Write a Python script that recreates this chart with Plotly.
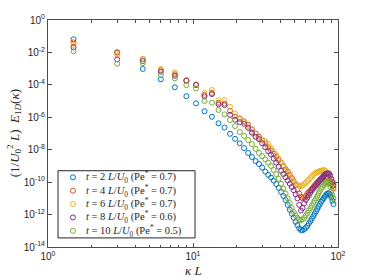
import plotly.graph_objects as go

# wavenumber kappa*L
kL = [1.5, 3.0, 4.5, 6.0, 7.5, 9.0, 10.5, 12.0, 13.5, 15.0,
      16.5, 18.0, 19.5, 21.0, 22.5, 24.0, 25.5, 27.0, 28.5, 30.0,
      31.5, 33.0, 34.5, 36.0, 37.5, 39.0, 40.5, 42.0, 43.5, 45.0,
      46.5, 48.0, 49.5, 51.0, 52.5, 54.0, 55.5, 57.0, 58.5, 60.0,
      61.5, 63.0, 64.5, 66.0, 67.5, 69.0, 70.5, 72.0, 73.5, 75.0,
      76.5, 78.0, 79.5, 81.0, 82.5, 84.0, 85.5, 87.0, 88.5, 90.0,
      91.5, 93.0]

# log10 of normalised spectrum E_1D
exp_t2 = [-1.19, -2.00, -3.02, -3.66, -4.15, -4.70, -5.14, -5.63, -5.97, -6.37,
          -6.63, -7.02, -7.33, -7.60, -7.90, -8.20, -8.45, -8.70, -8.88, -9.10,
          -9.35, -9.55, -9.72, -9.90, -10.12, -10.35, -10.60, -10.85, -11.10, -11.40,
          -11.70, -11.95, -12.20, -12.45, -12.65, -12.85, -12.95, -12.97, -12.90, -12.80,
          -12.70, -12.55, -12.40, -12.25, -12.10, -11.95, -11.80, -11.65, -11.50, -11.35,
          -11.20, -11.10, -11.00, -10.90, -10.80, -10.72, -10.68, -10.70, -10.80, -10.95,
          -11.15, -11.35]
exp_t4 = [-1.38, -2.00, -2.41, -3.10, -3.35, -3.72, -3.98, -4.62, -4.50, -5.10,
          -5.15, -5.60, -5.95, -6.10, -6.25, -6.45, -6.75, -7.00, -7.20, -7.40,
          -7.60, -7.85, -8.05, -8.25, -8.45, -8.65, -8.80, -9.00, -9.20, -9.35,
          -9.55, -9.75, -9.95, -10.20, -10.45, -10.70, -10.90, -11.00, -10.95, -10.85,
          -10.70, -10.60, -10.50, -10.40, -10.30, -10.20, -10.10, -10.00, -9.92, -9.85,
          -9.80, -9.75, -9.72, -9.70, -9.67, -9.66, -9.70, -9.80, -9.95, -10.10,
          -10.25, -10.40]
exp_t6 = [-1.54, -2.16, -2.40, -3.02, -3.23, -3.74, -4.00, -4.50, -4.32, -4.94,
          -4.94, -5.35, -5.76, -6.05, -6.30, -6.55, -6.90, -7.20, -7.30, -7.40,
          -7.47, -7.65, -7.90, -8.10, -8.33, -8.55, -8.80, -9.05, -9.30, -9.50,
          -9.70, -9.85, -10.00, -10.10, -10.18, -10.22, -10.25, -10.20, -10.12, -10.05,
          -9.95, -9.85, -9.75, -9.65, -9.55, -9.48, -9.42, -9.38, -9.35, -9.32,
          -9.30, -9.28, -9.26, -9.28, -9.32, -9.45, -9.57, -9.75, -9.90, -10.00,
          -10.05, -10.10]
exp_t8 = [-1.69, -2.43, -2.53, -3.19, -3.44, -3.74, -4.01, -4.71, -4.57, -5.20,
          -5.25, -5.85, -6.15, -6.30, -6.40, -6.65, -6.95, -7.20, -7.35, -7.60,
          -7.85, -8.10, -8.30, -8.55, -8.80, -9.05, -9.30, -9.50, -9.70, -9.90,
          -10.10, -10.30, -10.50, -10.75, -11.00, -11.40, -11.75, -11.60, -11.30, -11.10,
          -10.95, -10.80, -10.65, -10.50, -10.40, -10.30, -10.20, -10.10, -10.00, -9.90,
          -9.80, -9.70, -9.62, -9.55, -9.50, -9.47, -9.45, -9.48, -9.60, -9.80,
          -10.00, -10.20]
exp_t10 = [-1.93, -2.70, -2.67, -3.40, -3.60, -4.01, -4.22, -5.00, -5.10, -5.55,
           -5.82, -6.17, -6.54, -6.90, -7.15, -7.40, -7.65, -7.95, -8.20, -8.40,
           -8.60, -8.80, -9.00, -9.25, -9.50, -9.80, -10.10, -10.40, -10.70, -11.00,
           -11.30, -11.60, -11.85, -12.05, -12.20, -12.30, -12.35, -12.30, -12.20, -12.05,
           -11.90, -11.75, -11.60, -11.45, -11.30, -11.15, -11.00, -10.85, -10.70, -10.55,
           -10.40, -10.30, -10.20, -10.10, -10.02, -9.98, -10.00, -10.10, -10.30, -10.55,
           -10.80, -11.00]

series_names = [
    "<i>t</i> = 2 <i>L</i>/<i>U</i><sub>0</sub> (Pe<sup>*</sup> = 0.7)",
    "<i>t</i> = 4 <i>L</i>/<i>U</i><sub>0</sub> (Pe<sup>*</sup> = 0.7)",
    "<i>t</i> = 6 <i>L</i>/<i>U</i><sub>0</sub> (Pe<sup>*</sup> = 0.7)",
    "<i>t</i> = 8 <i>L</i>/<i>U</i><sub>0</sub> (Pe<sup>*</sup> = 0.6)",
    "<i>t</i> = 10 <i>L</i>/<i>U</i><sub>0</sub> (Pe<sup>*</sup> = 0.5)",
]
series_exps = [exp_t2, exp_t4, exp_t6, exp_t8, exp_t10]
colors = ["#0072BD", "#D95319", "#EDB120", "#7E2F8E", "#77AC30"]

x_tickvals = [1, 10, 100]
x_ticktext = ["10<sup>0</sup>", "10<sup>1</sup>", "10<sup>2</sup>"]
y_tickvals = [1, 1e-2, 1e-4, 1e-6, 1e-8, 1e-10, 1e-12, 1e-14]
y_ticktext = ["10<sup>0</sup>", "10<sup>-2</sup>", "10<sup>-4</sup>", "10<sup>-6</sup>",
              "10<sup>-8</sup>", "10<sup>-10</sup>", "10<sup>-12</sup>", "10<sup>-14</sup>"]
x_minor = [2, 3, 4, 5, 6, 7, 8, 9, 20, 30, 40, 50, 60, 70, 80, 90]

x_title = "<i>κ L</i>"
y_title = "(1/<i>U</i><sub>0</sub><sup>2</sup> <i>L</i>)  <i>E</i><sub>1<i>D</i></sub>(<i>κ</i>)"

fig = go.Figure()
for name, ex, c in zip(series_names, series_exps, colors):
    fig.add_trace(go.Scatter(
        x=kL, y=[10 ** v for v in ex], mode="markers", name=name,
        marker=dict(symbol="circle-open", size=5, color=c, line=dict(width=1, color=c)),
        showlegend=False,
    ))

axis_col = "#4d4d4d"
text_col = "#262626"
tick_font = dict(family="Liberation Sans, Arial, sans-serif", size=10, color=text_col)
serif = "Liberation Serif, Times New Roman, serif"

# custom legend box (paper coordinates)
leg_x0, leg_x1, leg_y0, leg_y1 = 0.0345, 0.507, 0.040, 0.336
row_y = [0.307, 0.248, 0.189, 0.130, 0.071]
mark_x = 0.086
text_x = 0.125
shapes = [dict(type="rect", xref="paper", yref="paper", x0=leg_x0, x1=leg_x1, y0=leg_y0, y1=leg_y1,
               line=dict(color=text_col, width=1), fillcolor="white", layer="above")]
annotations = []
for name, c, yy in zip(series_names, colors, row_y):
    shapes.append(dict(type="circle", xref="paper", yref="paper", xsizemode="pixel", ysizemode="pixel",
                       xanchor=mark_x, yanchor=yy, x0=-2.5, x1=2.5, y0=-2.5, y1=2.5,
                       line=dict(color=c, width=1), layer="above"))
    annotations.append(dict(xref="paper", yref="paper", x=text_x, y=yy, xanchor="left", yanchor="middle",
                            text=name, showarrow=False,
                            font=dict(family=serif, size=10.5, color=text_col)))

# axis titles
annotations.append(dict(xref="paper", yref="paper", x=0.5, y=-0.105, xanchor="center", yanchor="middle",
                        text=x_title, showarrow=False, font=dict(family=serif, size=13, color=text_col)))
annotations.append(dict(xref="paper", yref="paper", x=-0.118, y=0.5, xanchor="center", yanchor="middle",
                        text=y_title, textangle=-90, showarrow=False,
                        font=dict(family=serif, size=13, color=text_col)))

fig.update_layout(
    width=374, height=280,
    margin=dict(l=48, r=36, t=20, b=33),
    paper_bgcolor="white", plot_bgcolor="white",
    showlegend=False,
    shapes=shapes, annotations=annotations,
)
fig.update_xaxes(
    type="log", range=[0, 2], automargin=False,
    tickvals=x_tickvals, ticktext=x_ticktext,
    ticks="inside", ticklen=4, tickcolor=axis_col,
    minor=dict(tickvals=x_minor, ticks="inside", ticklen=2.5, tickcolor=axis_col, showgrid=False),
    showline=True, linecolor=axis_col, linewidth=1, mirror="ticks",
    showgrid=False, zeroline=False, tickfont=tick_font,
)
fig.update_yaxes(
    type="log", range=[-14, 0], automargin=False,
    tickvals=y_tickvals, ticktext=y_ticktext,
    ticks="inside", ticklen=4, tickcolor=axis_col,
    showline=True, linecolor=axis_col, linewidth=1, mirror="ticks",
    showgrid=False, zeroline=False, tickfont=tick_font,
)

fig.write_html("out.html", config={"displayModeBar": False},
               post_script="document.body.style.margin='0';")
